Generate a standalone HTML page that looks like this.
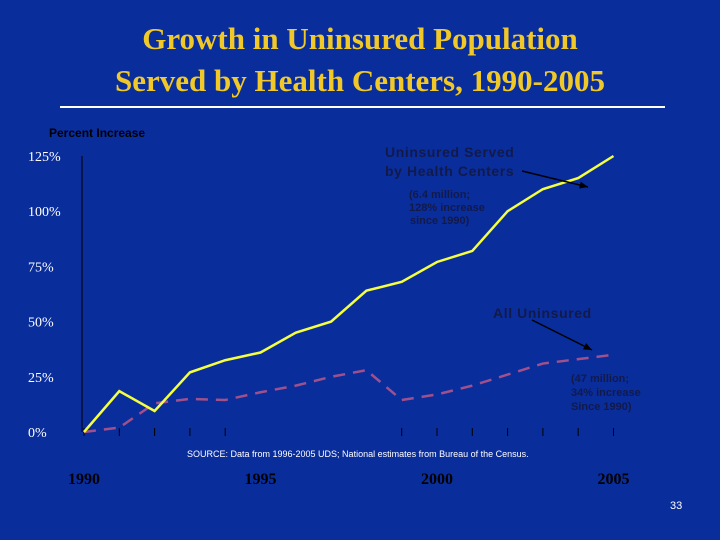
<!DOCTYPE html>
<html><head><meta charset="utf-8"><style>
body{margin:0;background:#0a2d9c;}
#wrap{position:relative;width:720px;height:540px;background:#0a2d9c;overflow:hidden;font-family:"Liberation Sans",sans-serif;}
.title{position:absolute;left:0;width:720px;text-align:center;top:18px;color:#f0c828;font:bold 31px/42px "Liberation Serif",serif;}
</style></head><body>
<div id="wrap">
<div class="title">Growth in Uninsured Population<br>Served by Health Centers, 1990-2005</div>
<svg id="chart" width="720" height="540" style="position:absolute;left:0;top:0"></svg>
</div>
<script>
const years=[1990,1991,1992,1993,1994,1995,1996,1997,1998,1999,2000,2001,2002,2003,2004,2005];
const healthCenters=[0,18.5,9.5,27,32.5,36,45,50,64,68,77,82,100,110,115,125];
const allUninsured=[0,2,13,15,14.5,18,21,25,28,14.5,17,21,26,31,33,35];
const yTicks=[0,25,50,75,100,125];
const yearLabels=[1990,1995,2000,2005];
const svg=document.getElementById('chart');
const NS='http://www.w3.org/2000/svg';
const x=y=>84+(y-1990)*35.3;
const yv=v=>432-v*2.208;
function mk(t,a){const e=document.createElementNS(NS,t);for(const k in a)e.setAttribute(k,a[k]);svg.appendChild(e);return e;}
let e;
e=mk('line',{x1:60,y1:107,x2:665,y2:107,stroke:'#fff','stroke-width':2});


e=mk('line',{x1:82,y1:yv(125),x2:82,y2:432,stroke:'#000','stroke-width':1});


yTicks.forEach(t=>{
 e=mk('text',{x:28,y:yv(t)+5,fill:'#fff','font-family':'Liberation Serif,serif','font-size':14});e.textContent=t+'%';
 
 
});
years.forEach((yr,i)=>{
 if(i>=5&&i<=8)return;
 e=mk('line',{x1:x(yr),y1:428,x2:x(yr),y2:436,stroke:'#000'});
 
 
});
yearLabels.forEach(yr=>{
 e=mk('text',{x:x(yr),y:484,fill:'#000','text-anchor':'middle','font-family':'Liberation Serif,serif','font-weight':'bold','font-size':16});e.textContent=yr;
 
 
});
e=mk('polyline',{points:years.map((yr,i)=>x(yr)+','+yv(allUninsured[i])).join(' '),fill:'none',stroke:'#a0508a','stroke-width':2.5,'stroke-dasharray':'12,8'});


e=mk('polyline',{points:years.map((yr,i)=>x(yr)+','+yv(healthCenters[i])).join(' '),fill:'none',stroke:'#f4ff40','stroke-width':2.5});


function txt(s,xx,yy,sz,col,name,bold,ls){e=mk('text',{x:xx,y:yy,fill:col,'font-size':sz,'font-weight':bold?'bold':'normal','letter-spacing':ls||0});e.textContent=s;
 
 }
txt('Percent Increase',49,137,12,'#000','y-axis-title',true);
txt('Uninsured Served',385,157,14,'#121a4a','hc-label',true,0.6);
txt('by Health Centers',385,176,14,'#121a4a','hc-label',true,0.6);
txt('(6.4 million;',409,198,11,'#121a4a','hc-note',true);
txt('128% increase',409,211,11,'#121a4a','hc-note',true);
txt(' since 1990)',410,224,11,'#121a4a','hc-note',true);
txt('All Uninsured',493,318,14,'#121a4a','all-label',true,0.6);
txt('(47 million;',571,382,11,'#121a4a','all-note',true);
txt('34% increase',571,396,11,'#121a4a','all-note',true);
txt('Since 1990)',571,410,11,'#121a4a','all-note',true);
txt('SOURCE: Data from 1996-2005 UDS; National estimates from Bureau of the Census.',187,457,9,'#fff','source-note',false);
txt('33',670,509,11,'#fff','page-number',false);
[[522,171,588,187],[532,320,592,350]].forEach(a=>{
 e=mk('line',{x1:a[0],y1:a[1],x2:a[2],y2:a[3],stroke:'#000','stroke-width':1.5});
 
 
 const ang=Math.atan2(a[3]-a[1],a[2]-a[0]);
 const p=[[a[2],a[3]],[a[2]-9*Math.cos(ang-0.4),a[3]-9*Math.sin(ang-0.4)],[a[2]-9*Math.cos(ang+0.4),a[3]-9*Math.sin(ang+0.4)]];
 e=mk('polygon',{points:p.map(q=>q.join(',')).join(' '),fill:'#000'});
 
 
});
</script>
</body></html>
